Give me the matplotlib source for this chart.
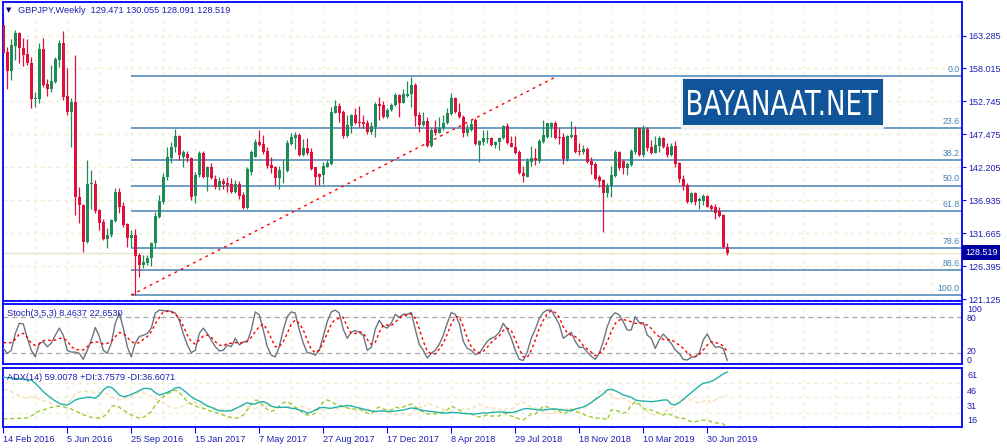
import matplotlib
matplotlib.use('Agg')
import matplotlib.pyplot as plt
from matplotlib.patches import Rectangle, PathPatch
from matplotlib.textpath import TextPath
from matplotlib.font_manager import FontProperties
from matplotlib.transforms import Affine2D
import numpy as np

# weekly GBPJPY candles, 14 Feb 2016 .. 4 Aug 2019
opens = [164.97, 160.70, 157.66, 161.61, 163.63, 161.23, 160.33, 158.83, 153.07, 153.18,
         161.07, 155.53, 154.67, 155.90, 159.37, 162.14, 153.61, 151.10, 152.70, 137.39,
         136.17, 130.30, 139.47, 139.53, 135.37, 133.50, 130.67, 131.37, 133.66, 138.30,
         136.01, 133.07, 130.94, 131.37, 128.17, 126.57, 126.94, 127.63, 130.03, 134.30,
         136.70, 140.59, 143.63, 145.39, 147.21, 143.79, 144.33, 143.63, 137.61, 140.97,
         144.54, 140.59, 142.19, 140.27, 139.10, 140.06, 139.63, 139.53, 138.30, 139.53,
         137.77, 135.63, 141.50, 143.90, 146.30, 145.93, 144.86, 142.57, 142.30, 140.43,
         141.71, 141.66, 145.93, 146.94, 147.37, 144.17, 145.23, 144.59, 142.19, 141.13,
         140.97, 142.30, 142.73, 150.94, 152.01, 151.10, 147.21, 148.81, 150.57, 149.50,
         149.50, 149.34, 147.90, 148.70, 152.33, 152.17, 150.19, 151.37, 152.17, 153.77,
         152.54, 153.66, 153.93, 155.37, 150.57, 148.97, 149.66, 145.61, 148.27, 147.74,
         148.43, 149.23, 150.73, 153.23, 151.10, 150.19, 147.74, 148.17, 149.77, 145.77,
         146.30, 146.73, 146.83, 145.77, 146.30, 146.83, 148.81, 146.14, 145.39, 144.70,
         141.34, 140.70, 143.10, 143.63, 143.26, 146.30, 147.10, 148.59, 149.34, 147.10,
         147.10, 143.47, 147.10, 147.37, 144.86, 144.70, 145.07, 143.26, 142.73, 140.59,
         140.17, 138.14, 139.21, 140.81, 144.70, 143.26, 142.03, 142.57, 144.70, 148.43,
         144.17, 148.27, 145.50, 144.54, 145.61, 146.83, 145.50, 144.17, 145.61, 142.83,
         140.27, 139.37, 136.70, 138.14, 136.86, 136.86, 137.61, 136.01, 135.79, 135.26,
         134.57, 129.471]
highs = [166.30, 161.50, 162.67, 164.17, 163.90, 162.83, 162.67, 159.79, 154.30, 162.03,
         162.83, 156.27, 158.57, 159.79, 162.57, 164.00, 158.03, 153.23, 160.17, 138.99,
         136.33, 143.37, 141.77, 140.17, 135.52, 133.87, 132.43, 133.87, 138.83, 138.83,
         136.70, 133.34, 132.17, 132.27, 128.43, 128.17, 128.17, 130.30, 135.10, 137.77,
         141.23, 145.39, 146.30, 148.27, 147.37, 144.97, 144.86, 143.90, 141.50, 144.86,
         144.75, 142.41, 142.94, 140.97, 140.59, 140.43, 140.59, 140.43, 140.17, 140.06,
         138.30, 142.30, 144.97, 146.67, 148.17, 147.37, 145.39, 143.90, 142.41, 142.41,
         143.37, 146.57, 147.74, 147.90, 147.74, 146.67, 146.83, 145.23, 142.30, 141.34,
         143.10, 143.37, 151.90, 152.97, 152.43, 151.37, 150.57, 150.73, 151.63, 152.01,
         150.57, 149.77, 149.50, 152.70, 153.39, 152.86, 151.63, 152.54, 154.03, 153.93,
         154.67, 156.06, 156.70, 155.63, 151.10, 151.10, 150.30, 148.43, 149.77, 150.30,
         150.57, 151.63, 154.03, 153.39, 152.43, 150.57, 149.13, 149.87, 150.03, 146.55,
         148.17, 148.17, 146.99, 146.46, 146.99, 148.97, 149.34, 147.21, 147.21, 144.97,
         142.41, 143.63, 145.61, 145.23, 146.67, 149.77, 149.34, 149.50, 149.66, 148.43,
         147.74, 147.37, 149.66, 148.81, 146.03, 145.77, 145.50, 143.90, 143.10, 140.97,
         140.27, 139.63, 142.41, 144.97, 144.86, 143.37, 143.10, 145.07, 148.70, 148.59,
         148.97, 148.59, 146.57, 147.21, 147.21, 146.99, 146.14, 146.03, 146.46, 143.10,
         140.97, 139.63, 138.30, 138.30, 137.39, 137.93, 137.77, 136.33, 136.33, 135.79,
         134.65, 130.055]
lows = [160.33, 154.67, 156.17, 159.37, 158.94, 158.41, 158.57, 151.63, 151.79, 152.54,
        154.99, 153.66, 154.30, 155.63, 158.30, 152.97, 150.57, 145.39, 134.57, 133.34,
        128.70, 130.14, 135.47, 134.83, 132.17, 130.57, 129.23, 131.10, 133.50, 134.83,
        132.70, 129.50, 129.50, 121.77, 124.70, 126.03, 126.57, 126.41, 129.50, 134.03,
        136.33, 140.17, 142.94, 144.70, 143.37, 142.19, 143.10, 136.97, 136.43, 140.59,
        140.43, 138.46, 140.27, 138.67, 138.57, 138.67, 138.30, 138.14, 138.03, 137.07,
        135.47, 135.47, 140.97, 143.79, 145.61, 144.33, 142.03, 141.34, 139.37, 138.67,
        139.74, 141.50, 145.77, 145.07, 144.01, 144.01, 144.17, 141.77, 139.37, 139.37,
        139.53, 142.19, 142.57, 150.83, 149.50, 146.83, 147.10, 147.74, 149.13, 148.70,
        148.43, 147.53, 147.53, 146.99, 149.77, 150.03, 150.03, 151.26, 152.01, 150.19,
        152.43, 153.39, 151.90, 148.81, 147.90, 148.81, 145.50, 145.39, 147.37, 147.63,
        148.17, 149.13, 150.57, 150.83, 150.03, 147.10, 147.21, 148.06, 145.77, 143.10,
        145.77, 146.03, 145.61, 145.23, 144.97, 146.67, 145.93, 145.39, 144.33, 141.13,
        139.90, 140.59, 142.41, 142.57, 142.94, 146.14, 146.83, 147.10, 146.67, 145.93,
        142.73, 143.26, 146.83, 144.54, 144.17, 144.33, 142.83, 141.13, 140.17, 138.99,
        131.90, 137.39, 137.39, 140.59, 141.77, 141.13, 140.97, 142.41, 144.33, 144.01,
        143.79, 144.86, 144.33, 144.43, 144.70, 145.23, 143.79, 144.01, 142.19, 139.90,
        138.57, 136.54, 136.54, 136.17, 135.47, 136.17, 135.79, 135.37, 133.87, 134.19,
        129.23, 128.091]
closes = [160.54, 157.66, 161.77, 163.63, 161.23, 160.17, 158.83, 153.07, 153.34, 161.07,
          155.42, 154.67, 156.01, 159.47, 162.14, 153.50, 151.10, 152.70, 137.39, 136.17,
          130.30, 139.53, 139.63, 135.26, 133.34, 130.67, 131.37, 133.77, 138.30, 135.90,
          132.97, 130.94, 131.37, 128.06, 126.57, 127.10, 127.63, 130.03, 134.41, 136.81,
          140.59, 143.90, 145.39, 147.21, 144.17, 144.70, 143.63, 137.50, 140.97, 144.54,
          140.59, 142.30, 140.43, 139.10, 140.06, 139.53, 139.37, 138.30, 139.53, 137.61,
          135.63, 141.87, 144.70, 146.30, 145.77, 144.70, 142.41, 142.03, 140.43, 141.77,
          141.82, 146.03, 147.10, 147.37, 144.17, 145.23, 144.43, 141.87, 140.59, 140.59,
          142.41, 142.94, 151.10, 152.01, 150.94, 147.21, 148.97, 150.57, 149.23, 149.23,
          149.13, 147.90, 148.81, 152.33, 152.01, 150.19, 151.37, 152.17, 153.77, 152.54,
          153.93, 153.93, 155.37, 150.41, 148.97, 149.66, 145.61, 148.17, 147.74, 148.43,
          149.34, 150.94, 153.23, 151.10, 150.19, 147.74, 148.27, 149.13, 145.93, 146.46,
          146.83, 146.94, 145.77, 146.30, 146.83, 148.81, 146.03, 145.50, 144.54, 141.23,
          140.81, 143.26, 143.63, 143.37, 146.46, 147.37, 149.23, 149.34, 146.83, 146.83,
          143.47, 147.21, 147.37, 144.70, 144.70, 145.07, 143.10, 142.57, 140.27, 140.06,
          138.14, 139.21, 140.97, 144.70, 142.03, 142.03, 142.73, 144.86, 148.43, 144.17,
          148.43, 145.23, 144.54, 145.77, 146.83, 145.50, 144.17, 145.61, 142.73, 140.27,
          139.21, 136.70, 138.14, 136.70, 137.07, 137.61, 135.90, 135.47, 134.94, 134.41,
          129.50, 128.519]

# Stochastic(3,5,3) main / signal
stoch_main = [28, 20, 25, 53, 70, 69, 45, 25, 14, 37, 39, 31, 37, 50, 62, 50, 25, 22, 22, 20,
              10, 25, 42, 63, 48, 25, 20, 37, 70, 87, 62, 31, 14, 37, 48, 50, 53, 62, 87, 92,
              91, 91, 90, 87, 75, 53, 34, 21, 25, 53, 62, 53, 42, 31, 24, 25, 34, 31, 45, 34,
              39, 39, 59, 89, 84, 59, 31, 17, 14, 31, 59, 81, 89, 87, 59, 37, 21, 20, 17, 25,
              48, 73, 89, 92, 87, 60, 45, 55, 58, 55, 50, 25, 30, 60, 75, 65, 62, 70, 85, 80,
              85, 85, 88, 60, 35, 25, 12, 20, 25, 35, 50, 70, 88, 85, 70, 40, 28, 25, 18, 20,
              30, 40, 45, 48, 55, 70, 60, 45, 25, 10, 8, 22, 45, 60, 78, 88, 92, 92, 80, 68,
              45, 50, 55, 40, 30, 30, 22, 15, 10,
              19.9, 39.4, 64.4, 81.0, 87.7, 83.8, 72.7, 58.8, 58.8, 81.0, 71.0, 71.0, 50.5,
              44.9, 28.2, 42.1, 52.1, 44.9, 36.6, 25.5, 19.9, 9.9, 8.8, 13.2, 14.4, 19.9,
              42.1, 52.1, 39.4, 30.0, 31.0, 28.0, 8.4637]
stoch_signal = [37.7, 37.7, 37.7, 43.2, 52.1, 53.2, 46.6, 36.6, 33.2, 35.5, 41.0, 42.1, 41.0,
                42.1, 44.9, 44.9, 41.0, 31.0, 26.6, 25.5, 25.5, 31.0, 37.7, 39.4, 37.7, 35.5,
                36.6, 39.4, 47.7, 54.4, 53.2, 46.6, 39.4, 36.6, 37.7, 43.2, 47.7, 56.0, 68.8,
                79.9, 88.8, 89.9, 88.8, 85.5, 78.2, 65.5, 50.5, 39.4, 35.5, 42.1, 48.8, 50.5,
                46.6, 39.4, 33.8, 32.1, 36.6, 36.6, 37.7, 37.7, 37.7, 41.0, 46.6, 56.0, 64.4,
                68.8, 58.8, 44.9, 31.0, 31.0, 39.4, 53.2, 68.8, 75.5, 69.9, 58.8, 42.1, 26.6,
                21.0, 25.5, 37.7, 53.2, 68.8, 76.5, 78.2,
                80, 64, 53, 53, 56, 54, 43, 35, 38, 55, 67, 67, 66, 72, 78, 83, 83, 86, 78,
                61, 40, 24, 19, 19, 27, 37, 52, 69, 81, 81, 65, 46, 31, 24, 21, 23, 30, 38,
                44, 49, 58, 62, 58, 43, 27, 14, 13, 25, 42, 61, 75, 86, 91, 88, 80, 64, 54,
                50, 48, 42, 33, 27, 22, 16,
                19.9, 25.5, 39.4, 56.0, 69.9, 75.5, 76.6, 74.4, 72.7, 69.9, 69.9, 68.8, 67.1,
                61.6, 53.2, 47.7, 43.2, 42.1, 43.2, 37.7, 33.8, 28.2, 21.0, 15.5, 14.4, 17.1,
                25.5, 33.8, 39.4, 37.7, 36.6, 32.1, 22.653]

# ADX(14), +DI, -DI
adx = [53.7, 53.3, 53.0, 52.7, 52.0, 51.7, 51.0, 51.0, 47.7, 43.7, 39.3, 36.0, 32.7, 30.0,
       27.7, 26.3, 26.0, 28.3, 31.0, 32.3, 33.0, 33.7, 33.7, 32.7, 36.0, 41.0, 44.3, 43.7,
       40.3, 36.0, 34.3, 35.0, 36.7, 38.3, 40.3, 42.3, 42.7, 41.7, 38.3, 36.0, 37.0, 38.7,
       40.3, 43.0, 43.7, 41.0, 37.7, 34.3, 31.7, 30.0, 27.7, 25.0, 23.7, 21.7, 20.3, 20.0,
       20.0, 20.3, 22.3, 24.3, 26.3, 28.3, 27.0, 27.0, 29.0, 29.3, 27.7, 25.0, 23.7, 23.7,
       23.7, 23.7, 22.7, 22.3, 21.0, 20.0, 17.7, 19.0, 21.0, 23.0, 23.7, 23.0, 22.7, 23.7,
       24.3, 25.0, 25.5, 25.0, 24.0, 23.0, 22.0, 21.0, 20.0, 19.5, 20.0, 20.0, 19.5, 19.5,
       20.0, 20.5, 21.0, 22.0, 23.0, 22.5, 21.5, 20.5, 20.0, 19.5, 19.0, 18.5, 18.0, 18.0,
       18.5, 18.5, 18.0, 17.5, 17.5, 17.0, 17.0, 17.5, 18.0, 18.0, 18.5, 19.0, 19.0, 19.0,
       18.5, 18.5, 19.0, 20.5, 22.0, 22.5, 22.0, 21.5, 21.0, 21.0, 21.5, 22.0, 22.0, 21.5,
       21.0, 20.5, 20.0, 22.0, 23.0, 24.0, 26.0, 28.5, 31.5,
       34.3, 37.0, 41.0, 41.7, 40.3, 38.3, 36.0, 35.0, 33.7, 31.0, 30.3, 30.0, 29.7, 29.3,
       29.7, 30.3, 31.0, 31.0, 27.0, 26.0, 28.3, 31.7, 35.0, 38.3, 41.7, 45.0, 47.7, 48.3,
       49.7, 51.7, 54.3, 57.0, 59.0078]
plus_di = [12.0, 12.3, 12.3, 12.7, 12.7, 12.7, 13.0, 15.0, 17.7, 20.0, 21.0, 22.3, 23.7, 24.3,
           25.0, 24.3, 23.0, 22.0, 20.0, 18.3, 16.3, 15.0, 13.7, 12.7, 13.0, 14.3, 17.7, 24.3,
           25.7, 23.7, 21.0, 18.3, 16.0, 14.3, 13.0, 13.7, 16.0, 19.3, 26.0, 30.3, 34.3, 37.0,
           39.0, 41.0, 38.3, 34.3, 29.3, 27.0, 25.0, 23.7, 22.7, 21.0, 19.7, 18.3, 17.7, 16.0,
           14.3, 13.7, 12.7, 13.7, 16.0, 21.0, 27.0, 31.0, 30.3, 25.0, 21.7, 19.7, 21.0, 25.0,
           28.3, 29.3, 27.0, 23.7, 21.0, 17.7, 16.0, 16.0, 17.7, 23.7, 29.3, 31.0, 29.3, 27.0,
           25.7, 25, 23, 22, 22, 22, 20, 18, 17, 22, 24, 22, 21, 21, 24, 23, 24, 26, 27, 24,
           21, 19, 17, 17, 17, 18, 19, 21, 25, 23, 21, 18, 17, 17, 15, 14, 15, 16, 15, 15,
           15, 18, 17, 15, 14, 12, 11, 14, 17, 17, 21, 25, 24, 23, 21, 20, 17, 19, 22, 20,
           18, 17, 15, 14, 13,
           12.7, 12.7, 11.0, 21.0, 21.0, 19.3, 17.7, 19.3, 26.0, 29.3, 27.0, 22.7, 21.0, 21.0,
           19.3, 17.7, 16.0, 17.7, 16.0, 14.3, 12.7, 12.7, 11.0, 9.3, 9.3, 10.3, 11.0, 11.0,
           9.3, 8.3, 7.7, 7.0, 3.7579]
minus_di = [41.7, 41.0, 39.3, 37.0, 35.0, 33.7, 32.7, 34.3, 33.7, 31.7, 30.3, 29.3, 27.7, 26.0,
            25.0, 27.0, 29.3, 31.0, 37.7, 39.0, 40.3, 39.3, 39.0, 38.3, 38.3, 37.7, 37.0, 35.0,
            31.7, 31.0, 32.3, 33.7, 33.7, 37.7, 38.3, 37.7, 37.0, 35.0, 32.3, 30.3, 27.7, 25.0,
            23.7, 22.7, 23.7, 25.0, 27.0, 29.3, 28.3, 27.0, 26.0, 25.0, 23.7, 22.7, 21.7, 21.0,
            21.0, 21.7, 22.7, 23.7, 25.0, 24.3, 22.7, 22.7, 24.3, 25.7, 25.0, 24.3, 23.7, 23.0,
            23.7, 24.3, 23.7, 22.7, 23.7, 24.3, 22.7, 21.7, 21.0, 21.0, 21.0, 21.7, 22.7, 22.3,
            21.7, 24, 23, 22, 21, 20, 20, 22, 21, 19, 19, 20, 19, 18, 16, 18, 17, 16, 16, 22,
            24, 23, 28, 26, 25, 23, 22, 20, 18, 18, 19, 23, 22, 21, 25, 27, 25, 24, 23, 23,
            22, 20, 23, 22, 24, 28, 29, 26, 24, 23, 21, 19, 18, 17, 19, 19, 24, 22, 20, 23,
            23, 22, 25, 28, 32,
            39.3, 41.0, 38.3, 36.0, 32.7, 31.7, 32.7, 31.0, 28.3, 27.7, 25.0, 23.7, 19.3, 17.7,
            16.0, 17.0, 18.3, 21.0, 22.7, 26.0, 29.3, 31.0, 31.7, 31.0, 29.3, 27.7, 29.3, 31.0,
            28.3, 31.0, 32.7, 35.0, 36.6071]

price_ticks = [163.285, 158.015, 152.745, 147.475, 142.205, 136.935, 131.665, 126.395, 121.125]
date_bars = [0, 16, 32, 48, 64, 80, 96, 112, 128, 144, 160, 176]
date_labels = ['14 Feb 2016', '5 Jun 2016', '25 Sep 2016', '15 Jan 2017', '7 May 2017',
               '27 Aug 2017', '17 Dec 2017', '8 Apr 2018', '29 Jul 2018', '18 Nov 2018',
               '10 Mar 2019', '30 Jun 2019']
fib_levels = [0.0, 23.6, 38.2, 50.0, 61.8, 78.6, 88.6, 100.0]
fib_high, fib_low = 156.79, 121.76
fib_t1, fib_t2 = 32, 138.5
last_price = 128.519

W, H = 1007, 448
BLUE = '#0000FF'
NAVY = '#1E1EB4'
GRID = '#EEEED2'
plt.rcParams['font.family'] = ['Liberation Sans', 'DejaVu Sans']


def rect(x0, y0, x1, y1):
    return [x0 / W, 1 - y1 / H, (x1 - x0) / W, (y1 - y0) / H]


fig = plt.figure(figsize=(W / 100, H / 100), dpi=100)
fig.patch.set_facecolor('white')
ax = fig.add_axes(rect(2.7, 2, 962, 301))
ax_st = fig.add_axes(rect(2.7, 303.5, 962, 364.3))
ax_adx = fig.add_axes(rect(2.7, 367.7, 962, 426.7))

n = len(closes)
x = np.arange(n)
o, h, l, c = map(np.array, (opens, highs, lows, closes))
xmax = 239.7

for a in (ax, ax_st, ax_adx):
    a.set_xlim(-0.15, xmax)
    for s in a.spines.values():
        s.set_color(BLUE)
        s.set_linewidth(1.3)
    for gx in range(8, 240, 8):
        a.axvline(gx, color=GRID, lw=0.9, ls=(0, (3, 3)), zorder=0)
    a.set_xticks([])
    a.set_yticks([])

# main chart
ax.set_ylim(120.805, 168.645)
for p in price_ticks:
    ax.axhline(p, color=GRID, lw=0.9, ls=(0, (3, 3)), zorder=0)
ax.axhline(last_price, color='#E4E9C4', lw=1.0, zorder=0.5)

fib_prices = [fib_high - (fib_high - fib_low) * lv / 100 for lv in fib_levels]
ax.hlines(fib_prices, fib_t1, xmax, color='#4682B4', lw=1.1, zorder=1)
for lv, p in zip(fib_levels, fib_prices):
    ax.text(xmax - 0.6, p + 0.35, '%.1f' % lv, ha='right', va='bottom',
            color='#4682B4', fontsize=6.3)
ax.plot([fib_t1, fib_t2], [fib_low, fib_high], color='red', lw=1.0,
        ls=(0, (2, 3)), zorder=1.5)

up = c >= o
col = np.where(up, '#1E8C57', '#E0103C')
ax.vlines(x, l, h, colors=col, lw=0.9, zorder=2)
ax.bar(x, np.maximum(np.abs(c - o), 0.08), bottom=np.minimum(o, c), width=0.78,
       color=col, linewidth=0, zorder=3)

ax.yaxis.tick_right()
ax.set_yticks(price_ticks)
ax.set_yticklabels(['%.3f' % p for p in price_ticks])
ax.tick_params(axis='y', direction='out', length=3, width=0.8, color=BLUE,
               labelsize=6.5, labelcolor=NAVY, pad=1.5)

# logo
ax.add_patch(Rectangle((680.7 / W, 1 - 130 / H), 203.3 / W, 52.7 / H,
                       transform=fig.transFigure, facecolor='#F2F2F2', edgecolor='none', zorder=6))
ax.add_patch(Rectangle((682.7 / W, 1 - 125 / H), 200 / W, 45.7 / H,
                       transform=fig.transFigure, facecolor='#105499', edgecolor='none', zorder=7))
tp = TextPath((0, 0), 'BAYANAAT.NET', size=100, prop=FontProperties(family='DejaVu Sans'))
bb = tp.get_extents()
logo_tr = Affine2D().translate(-bb.x0, -bb.y0).scale(190 / bb.width, 25 / bb.height) \
    .translate(688, H - 115)
fig.add_artist(PathPatch(tp, transform=logo_tr, facecolor='white', edgecolor='none', zorder=8))

# header texts
fig.text(6 / W, 1 - 10.5 / H, '\u25bc', color='#00008B', fontsize=5, va='center',
         family='DejaVu Sans')
fig.text(18 / W, 1 - 10.5 / H, 'GBPJPY,Weekly  129.471 130.055 128.091 128.519',
         color=NAVY, fontsize=6.6, va='center')
fig.text(965 / W, 1 - 252.3 / H, '%.3f' % last_price, color='white', fontsize=6.5, va='center',
         bbox=dict(boxstyle='square,pad=0.3', fc='#0000A0', ec='none'))

# stochastic
ax_st.set_ylim(1.67, 103)
ax_st.axhline(80, color='#A8A8A8', lw=0.9, ls=(0, (4, 3)))
ax_st.axhline(20, color='#A8A8A8', lw=0.9, ls=(0, (4, 3)))
ax_st.plot(x, stoch_main, color='#6B7683', lw=1.0, zorder=3)
ax_st.plot(x, stoch_signal, color='red', lw=1.0, ls=(0, (2, 2)), zorder=3)
fig.text(7 / W, 1 - 313.5 / H, 'Stoch(3,5,3) 8.4637 22.6530', color=NAVY, fontsize=6.6,
         va='center')
for lab, yy in (('100', 309.5), ('80', 318), ('20', 351.5), ('0', 360)):
    fig.text(967 / W, 1 - yy / H, lab, color=NAVY, fontsize=6.3, va='center')

# ADX
ax_adx.set_ylim(4.3, 63.3)
for gy in (47.7, 33.7, 18.3):
    ax_adx.axhline(gy, color=GRID, lw=0.9, ls=(0, (3, 3)), zorder=0)
ax_adx.plot(x, minus_di, color='#F5DEB3', lw=1.0, ls=(0, (3, 2)), zorder=2)
ax_adx.plot(x, plus_di, color='#9ACD32', lw=1.0, ls=(0, (3, 2)), zorder=2)
ax_adx.plot(x, adx, color='#20B2AA', lw=1.0, zorder=3)
fig.text(7 / W, 1 - 377 / H, 'ADX(14) 59.0078 +DI:3.7579 -DI:36.6071', color=NAVY,
         fontsize=6.6, va='center')
for lab, yy in (('61', 375), ('46', 391.7), ('31', 406), ('16', 420.7)):
    fig.text(967 / W, 1 - yy / H, lab, color=NAVY, fontsize=6.5, va='center')

ax_adx.set_xticks(date_bars)
ax_adx.set_xticklabels(date_labels, ha='left')
ax_adx.tick_params(axis='x', direction='out', length=4, width=0.8, color=BLUE,
                   labelsize=6.6, labelcolor=NAVY, pad=2)

fig.savefig('out.png', dpi=100, facecolor='white')
